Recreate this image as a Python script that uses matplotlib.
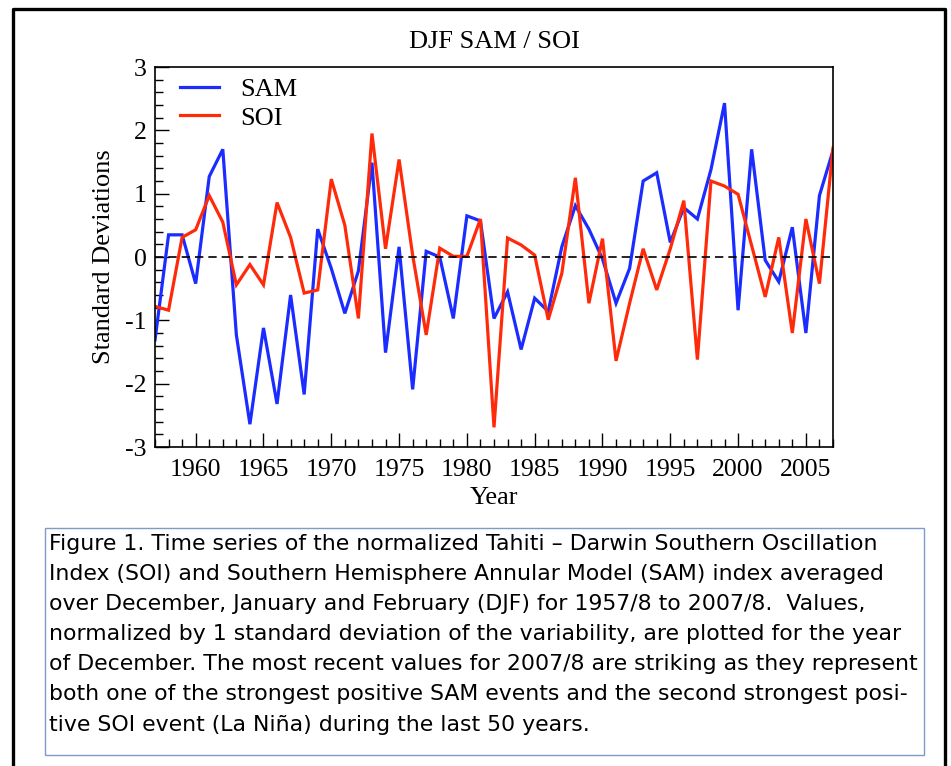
import numpy as np
import matplotlib
matplotlib.use("Agg")
from matplotlib import pyplot as plt
from matplotlib.ticker import MultipleLocator
from matplotlib.patches import Rectangle
from matplotlib.lines import Line2D

# DJF values, plotted for the year of December
years = list(range(1957, 2008))

sam = [-1.31, 0.35, 0.35, -0.42, 1.27, 1.70, -1.23, -2.64, -1.12, -2.32,
       -0.60, -2.17, 0.44, -0.18, -0.89, -0.22, 1.49, -1.51, 0.16, -2.09,
       0.09, 0.00, -0.97, 0.65, 0.57, -0.97, -0.55, -1.46, -0.65, -0.86,
       0.16, 0.81, 0.44, -0.03, -0.73, -0.18, 1.20, 1.33, 0.23, 0.78,
       0.60, 1.38, 2.43, -0.84, 1.70, -0.05, -0.39, 0.47, -1.20, 0.97,
       1.68]

soi = [-0.78, -0.84, 0.31, 0.43, 0.97, 0.55, -0.44, -0.12, -0.44, 0.86,
       0.31, -0.57, -0.52, 1.23, 0.50, -0.97, 1.95, 0.13, 1.54, 0.03,
       -1.23, 0.14, 0.01, 0.01, 0.60, -2.69, 0.30, 0.19, 0.03, -0.99,
       -0.26, 1.25, -0.73, 0.29, -1.64, -0.73, 0.13, -0.52, 0.13, 0.89,
       -1.62, 1.20, 1.12, 0.99, 0.18, -0.63, 0.31, -1.20, 0.60, -0.42,
       1.72]

series_names = ['SAM', 'SOI']
series_colors = ['#1a2cff', '#ff2a0a']

caption_lines = [
    "Figure 1. Time series of the normalized Tahiti \u2013 Darwin Southern Oscillation",
    "Index (SOI) and Southern Hemisphere Annular Model (SAM) index averaged",
    "over December, January and February (DJF) for 1957/8 to 2007/8.  Values,",
    "normalized by 1 standard deviation of the variability, are plotted for the year",
    "of December. The most recent values for 2007/8 are striking as they represent",
    "both one of the strongest positive SAM events and the second strongest posi-",
    "tive SOI event (La Ni\u00f1a) during the last 50 years.",
]


def main():
    plt.rcParams['axes.unicode_minus'] = False
    W, H = 951, 766
    fig = plt.figure(figsize=(W / 100, H / 100), dpi=100)
    serif = 'Liberation Serif'

    # outer frame (left, top, right only - bottom is cut off)
    fx0, fx1, fy0 = 13 / W, 945 / W, 1 - 9 / H
    fig.add_artist(Line2D([fx0, fx0, fx1, fx1], [0, fy0, fy0, 0],
                          transform=fig.transFigure, color='black', lw=2.4))

    ax = fig.add_axes([155 / W, 1 - 447 / H, (833 - 155) / W, (447 - 67) / H])

    for vals, name, col in zip([sam, soi], series_names, series_colors):
        ax.plot(years, vals, color=col, lw=2.3, label=name, solid_joinstyle='miter')

    ax.axhline(0, color='black', lw=1.2, ls=(0, (5, 3)))

    ax.set_xlim(1957, 2007)
    ax.set_ylim(-3, 3)
    ax.xaxis.set_major_locator(MultipleLocator(5))
    ax.xaxis.set_minor_locator(MultipleLocator(1))
    ax.yaxis.set_major_locator(MultipleLocator(1))
    ax.yaxis.set_minor_locator(MultipleLocator(0.2))
    ax.tick_params(which='both', direction='in', top=False, right=False,
                   width=1.0, labelsize=18.5)
    ax.tick_params(which='major', length=10)
    ax.tick_params(axis='x', which='major', pad=9)
    ax.tick_params(axis='y', which='major', pad=6)
    ax.tick_params(which='minor', length=6)
    for lab in ax.get_xticklabels() + ax.get_yticklabels():
        lab.set_family(serif)
    for sp in ax.spines.values():
        sp.set_linewidth(1.2)

    ax.set_title('DJF SAM / SOI', fontsize=19, family=serif, pad=14)
    ax.set_xlabel('Year', fontsize=19, family=serif, labelpad=4)
    ax.set_ylabel('Standard Deviations', fontsize=19, family=serif, labelpad=7)

    ax.legend(loc='upper left', frameon=False, prop={'family': serif, 'size': 19},
              handlelength=1.5, handletextpad=0.8, labelspacing=0.18,
              borderaxespad=0.0, bbox_to_anchor=(0.021, 0.999))

    # caption box
    fig.add_artist(Rectangle((45 / W, 1 - 755 / H), (924 - 45) / W, (755 - 528) / H,
                             transform=fig.transFigure, fill=False,
                             edgecolor='#7f9acb', lw=1.0))
    for i, line in enumerate(caption_lines):
        fig.text(49 / W, 1 - (550 + i * 30.1) / H, line, fontsize=15.8,
                 family='DejaVu Sans', va='baseline', ha='left', color='black')

    fig.savefig('out.png', dpi=100)


if __name__ == "__main__":
    main()
